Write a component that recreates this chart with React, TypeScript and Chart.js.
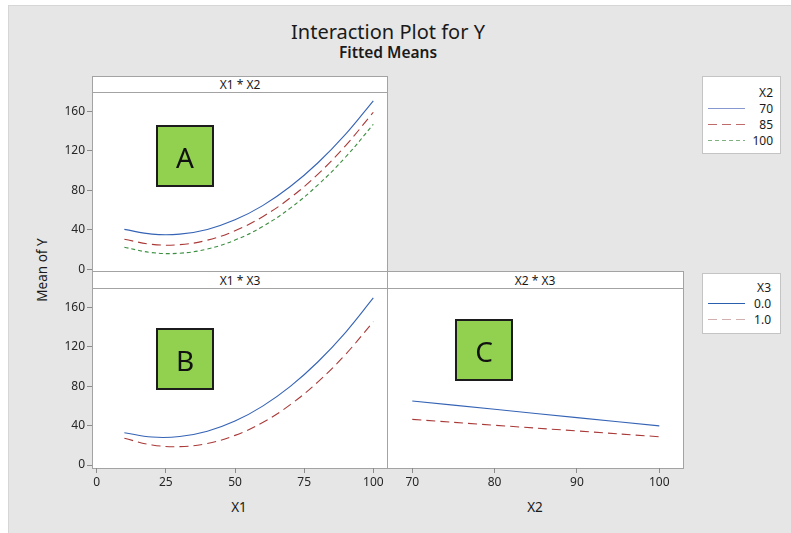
import React, { useEffect, useRef } from "react";
import { Chart, registerables } from "chart.js";

Chart.register(...registerables);

// ---------- data ----------
const X1_VALUES = [10, 20, 30, 40, 50, 60, 70, 80, 90, 100];
const X2_VALUES = [70, 80, 90, 100];

// Panel A: X1 * X2
const A_X2_70 = [40.4, 35.6, 35.6, 40.4, 50.1, 64.5, 83.8, 107.9, 136.8, 170.6];
const A_X2_85 = [30.4, 25.3, 25.0, 29.5, 39.0, 53.3, 72.4, 96.4, 125.3, 159.0];
const A_X2_100 = [22.3, 16.9, 16.3, 20.6, 29.6, 43.4, 62.0, 85.5, 113.7, 146.7];

// Panel B: X1 * X3
const B_X3_0 = [32.8, 28.4, 28.9, 34.3, 44.6, 59.8, 79.8, 104.8, 134.7, 169.5];
const B_X3_1 = [27.1, 20.4, 18.7, 21.9, 30.1, 43.2, 61.3, 84.4, 112.4, 145.4];

// Panel C: X2 * X3
const C_X3_0 = [65.0, 56.6, 48.1, 39.7];
const C_X3_1 = [46.3, 40.4, 34.6, 28.7];

const Y_TICKS = [0, 40, 80, 120, 160];
const X1_TICKS = [0, 25, 50, 75, 100];
const X2_TICKS = [70, 80, 90, 100];

const LEGEND_X2 = ["70", "85", "100"];
const LEGEND_X3 = ["0.0", "1.0"];

// ---------- styles ----------
const FONT = '"Noto Sans", "Open Sans", sans-serif';
const BLUE = "#3563b5";
const RED = "#a93a38";
const GREEN = "#3a8f3f";
const DASH_LONG = [9, 5];
const DASH_SHORT = [4, 3];
const TICK_COLOR = "#8c8c8c";
const FRAME = "#a3a3a3";

type LineSpec = { xs: number[]; ys: number[]; color: string; dash: number[] };

function mkDataset(s: LineSpec) {
  return {
    data: s.xs.map((x, i) => ({ x, y: s.ys[i] })),
    borderColor: s.color,
    borderWidth: 1.1,
    borderDash: s.dash,
    pointRadius: 0,
    tension: 0.4,
    fill: false,
  };
}

type PanelProps = {
  left: number;
  top: number;
  width: number;
  height: number;
  padding: { top: number; bottom: number; left: number; right: number };
  xMin: number;
  xMax: number;
  xTicks: number[];
  yMin: number;
  yMax: number;
  showX: boolean;
  showY: boolean;
  lines: LineSpec[];
};

function Panel(p: PanelProps) {
  const ref = useRef<HTMLCanvasElement | null>(null);
  useEffect(() => {
    if (!ref.current) return;
    const tickFont = { family: FONT, size: 12 };
    const chart = new Chart(ref.current, {
      type: "line",
      data: { datasets: p.lines.map(mkDataset) as any },
      options: {
        animation: false,
        responsive: false,
        maintainAspectRatio: false,
        layout: { padding: p.padding },
        plugins: { legend: { display: false }, tooltip: { enabled: false } },
        scales: {
          x: {
            type: "linear",
            display: p.showX,
            min: p.xMin,
            max: p.xMax,
            afterBuildTicks: (s: any) => {
              s.ticks = p.xTicks.map((v) => ({ value: v }));
            },
            afterFit: (s: any) => {
              s.height = p.showX ? 40 : 0;
            },
            grid: {
              drawOnChartArea: false,
              drawTicks: true,
              tickLength: 5,
              color: TICK_COLOR,
            },
            border: { display: false },
            ticks: {
              font: tickFont,
              color: "#262626",
              padding: 2,
              maxRotation: 0,
              autoSkip: false,
            },
          },
          y: {
            type: "linear",
            display: p.showY,
            min: p.yMin,
            max: p.yMax,
            afterBuildTicks: (s: any) => {
              s.ticks = Y_TICKS.map((v) => ({ value: v }));
            },
            afterFit: (s: any) => {
              s.width = p.showY ? 72 : 0;
            },
            grid: {
              drawOnChartArea: false,
              drawTicks: true,
              tickLength: 5,
              color: TICK_COLOR,
            },
            border: { display: false },
            ticks: {
              font: tickFont,
              color: "#262626",
              padding: 2,
              autoSkip: false,
            },
          },
        },
      } as any,
    });
    return () => chart.destroy();
  }, []);
  return (
    <canvas
      ref={ref}
      width={p.width}
      height={p.height}
      style={{
        position: "absolute",
        left: p.left,
        top: p.top,
        width: p.width,
        height: p.height,
      }}
    />
  );
}

function LetterBox({ x, y, w, h, label }: { x: number; y: number; w: number; h: number; label: string }) {
  return (
    <g>
      <rect x={x} y={y} width={w} height={h} fill="#92d050" stroke="#1c1c1c" strokeWidth={2} />
      <text
        x={x + w / 2}
        y={y + h / 2 + 1}
        textAnchor="middle"
        dominantBaseline="central"
        fontSize={28}
        fill="#111"
      >
        {label}
      </text>
    </g>
  );
}

export default function App() {
  return (
    <div
      style={{
        position: "absolute",
        left: 0,
        top: 0,
        width: 791,
        height: 533,
        background: "#ffffff",
        overflow: "hidden",
        fontFamily: FONT,
      }}
    >
      <svg
        width={791}
        height={533}
        style={{ position: "absolute", left: 0, top: 0 }}
        fontFamily={FONT}
      >
        {/* outer gray background */}
        <rect x={8} y={5} width={783} height={528} fill="#e6e6e6" />
        <line x1={8.5} y1={5} x2={8.5} y2={533} stroke="#d6d6d6" />
        <line x1={8} y1={5.5} x2={791} y2={5.5} stroke="#d6d6d6" />

        {/* titles */}
        <text x={388} y={31} textAnchor="middle" dominantBaseline="central" fontSize={20} fill="#1a1a1a">
          Interaction Plot for Y
        </text>
        <text x={388} y={52} textAnchor="middle" dominantBaseline="central" fontSize={15.5} fontWeight={600} fill="#1a1a1a">
          Fitted Means
        </text>

        {/* panel backgrounds */}
        <rect x={92} y={76} width={295} height={195} fill="#fff" />
        <rect x={92} y={271} width={591} height={197} fill="#fff" />

        {/* panel A frame */}
        <rect x={92.5} y={76.5} width={295} height={195} fill="none" stroke={FRAME} />
        <line x1={92} y1={92.5} x2={388} y2={92.5} stroke={FRAME} />
        {/* panel B/C frame */}
        <rect x={92.5} y={271.5} width={591} height={197} fill="none" stroke={FRAME} />
        <line x1={387.5} y1={271} x2={387.5} y2={469} stroke={FRAME} />
        <line x1={92} y1={288.5} x2={684} y2={288.5} stroke={FRAME} />

        {/* strip headers */}
        <text x={240} y={84.5} textAnchor="middle" dominantBaseline="central" fontSize={12} fill="#1a1a1a">
          X1 * X2
        </text>
        <text x={240} y={280} textAnchor="middle" dominantBaseline="central" fontSize={12} fill="#1a1a1a">
          X1 * X3
        </text>
        <text x={535} y={280} textAnchor="middle" dominantBaseline="central" fontSize={12} fill="#1a1a1a">
          X2 * X3
        </text>

        {/* axis titles */}
        <text
          x={42}
          y={270}
          textAnchor="middle"
          dominantBaseline="central"
          fontSize={13.5}
          fill="#1a1a1a"
          transform="rotate(-90 42 270)"
        >
          Mean of Y
        </text>
        <text x={239} y={507} textAnchor="middle" dominantBaseline="central" fontSize={13.5} fill="#1a1a1a">
          X1
        </text>
        <text x={535} y={507} textAnchor="middle" dominantBaseline="central" fontSize={13.5} fill="#1a1a1a">
          X2
        </text>

        {/* legend X2 */}
        <rect x={702.5} y={76.5} width={78} height={77} fill="#fff" stroke="#c4c4c4" />
        <text x={773} y={92} textAnchor="end" dominantBaseline="central" fontSize={12} fill="#1a1a1a">
          X2
        </text>
        {LEGEND_X2.map((lab, i) => {
          const y = 108 + i * 16;
          const colors = ["#8797cf", "#c06a6a", "#7fb07f"];
          const dashes = ["", "9 5", "4 3"];
          return (
            <g key={lab}>
              <line x1={708} y1={y + 0.5} x2={745} y2={y + 0.5} stroke={colors[i]} strokeWidth={1.1} strokeDasharray={dashes[i]} />
              <text x={773} y={y} textAnchor="end" dominantBaseline="central" fontSize={12} fill="#1a1a1a">
                {lab}
              </text>
            </g>
          );
        })}

        {/* legend X3 */}
        <rect x={702.5} y={273.5} width={78} height={60} fill="#fff" stroke="#c4c4c4" />
        <text x={771} y={287} textAnchor="end" dominantBaseline="central" fontSize={12} fill="#1a1a1a">
          X3
        </text>
        {LEGEND_X3.map((lab, i) => {
          const y = 303 + i * 16;
          const colors = ["#2a5fb0", "#d2b0b0"];
          const dashes = ["", "9 5"];
          return (
            <g key={lab}>
              <line x1={708} y1={y + 0.5} x2={745} y2={y + 0.5} stroke={colors[i]} strokeWidth={1.1} strokeDasharray={dashes[i]} />
              <text x={771} y={y} textAnchor="end" dominantBaseline="central" fontSize={12} fill="#1a1a1a">
                {lab}
              </text>
            </g>
          );
        })}
      </svg>

      {/* Panel A: X1 * X2 */}
      <Panel
        left={20}
        top={82}
        width={377}
        height={199}
        padding={{ top: 10, bottom: 10, left: 0, right: 10 }}
        xMin={-1.7}
        xMax={104.95}
        xTicks={X1_TICKS}
        yMin={-1.7}
        yMax={179.5}
        showX={false}
        showY={true}
        lines={[
          { xs: X1_VALUES, ys: A_X2_70, color: BLUE, dash: [] },
          { xs: X1_VALUES, ys: A_X2_85, color: RED, dash: DASH_LONG },
          { xs: X1_VALUES, ys: A_X2_100, color: GREEN, dash: DASH_SHORT },
        ]}
      />

      {/* Panel B: X1 * X3 */}
      <Panel
        left={20}
        top={279}
        width={382}
        height={229}
        padding={{ top: 10, bottom: 0, left: 0, right: 15 }}
        xMin={-1.7}
        xMax={104.95}
        xTicks={X1_TICKS}
        yMin={-3}
        yMax={178.6}
        showX={true}
        showY={true}
        lines={[
          { xs: X1_VALUES, ys: B_X3_0, color: BLUE, dash: [] },
          { xs: X1_VALUES, ys: B_X3_1, color: RED, dash: DASH_LONG },
        ]}
      />

      {/* Panel C: X2 * X3 */}
      <Panel
        left={372}
        top={279}
        width={326}
        height={229}
        padding={{ top: 10, bottom: 0, left: 15, right: 15 }}
        xMin={66.93}
        xMax={102.88}
        xTicks={X2_TICKS}
        yMin={-3}
        yMax={178.6}
        showX={true}
        showY={false}
        lines={[
          { xs: X2_VALUES, ys: C_X3_0, color: BLUE, dash: [] },
          { xs: X2_VALUES, ys: C_X3_1, color: RED, dash: DASH_LONG },
        ]}
      />

      {/* annotation boxes */}
      <svg
        width={791}
        height={533}
        style={{ position: "absolute", left: 0, top: 0, pointerEvents: "none" }}
        fontFamily={FONT}
      >
        <LetterBox x={157} y={126} w={56} h={60} label="A" />
        <LetterBox x={157} y={329} w={56} h={60} label="B" />
        <LetterBox x={456} y={320} w={56} h={60} label="C" />
      </svg>
    </div>
  );
}
